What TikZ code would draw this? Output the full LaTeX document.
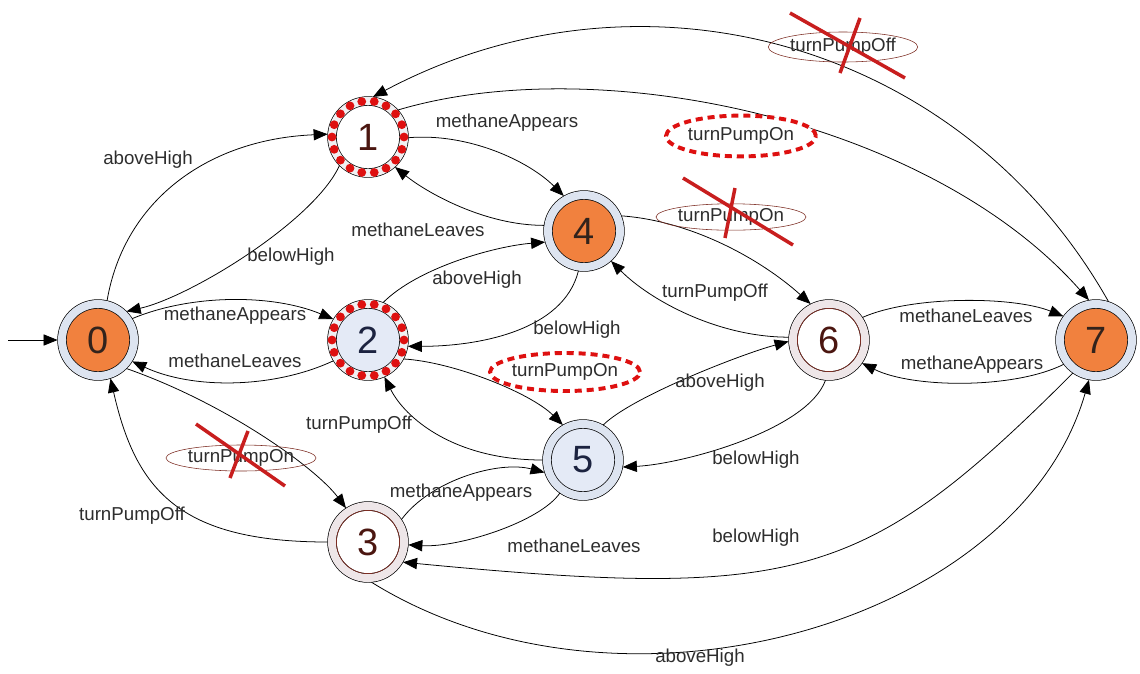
\documentclass[tikz,border=0pt]{standalone}
\usepackage{fontspec}
\setmainfont{Liberation Sans}
\usepackage{xcolor}
\usepackage{tikz}
\usetikzlibrary{shapes.geometric, arrows.meta}

\definecolor{laranja}{RGB}{241,129,62}
\definecolor{anelazul}{RGB}{221,228,240}
\definecolor{anelbranco}{RGB}{240,240,242}
\definecolor{anelrosa}{RGB}{238,230,232}
\definecolor{azulclaro}{RGB}{228,234,246}
\definecolor{marrom}{RGB}{125,45,35}
\definecolor{vermelho}{RGB}{222,16,16}
\definecolor{vermelhox}{RGB}{200,30,30}
\definecolor{tinta}{RGB}{45,45,45}
\definecolor{digescuro}{RGB}{50,35,28}
\definecolor{digvinho}{RGB}{75,22,16}
\definecolor{digazul}{RGB}{28,35,64}

\tikzstyle{estado} = [circle, minimum size=1.8cm, inner sep=0pt, outer sep=0.11cm, draw=black, line width=0.5pt, double distance=0.2cm, font=\fontsize{27}{27}\selectfont]
\tikzstyle{seta} = [-{Triangle[length=10pt,width=8pt]}, line width=0.55pt]
\tikzstyle{rotulo} = [text=tinta, font=\fontsize{13.3}{15}\selectfont, inner sep=1pt]
\tikzstyle{novo} = [rotulo, ellipse, draw=vermelho, fill=white, line width=2.8pt, dash pattern=on 5pt off 3.5pt, inner sep=0pt]
\tikzstyle{cortado} = [rotulo, ellipse, draw=marrom, line width=0.4pt, inner sep=0pt]
\tikzstyle{xis} = [vermelhox, line width=2.5pt]

\begin{document}
\begin{tikzpicture}[x=0.025cm, y=0.025cm]
    \useasboundingbox (0,0) rectangle (1140,-673);

    % Estados
    \node[estado, double=anelazul, fill=laranja, text=digescuro] (n0) at (98,-340) {0};
    \node[estado, double=anelbranco, fill=white, text=digvinho] (n1) at (368,-137) {1};
    \node[estado, double=anelbranco, fill=azulclaro, text=digazul] (n2) at (368,-340) {2};
    \node[estado, double=anelrosa, fill=white, text=digvinho] (n3) at (368,-542) {3};
    \node[estado, double=anelazul, fill=laranja, text=digescuro] (n4) at (584,-231) {4};
    \node[estado, double=anelazul, fill=azulclaro, text=digazul] (n5) at (583,-460) {5};
    \node[estado, double=anelrosa, fill=white, text=digvinho] (n6) at (829,-340) {6};
    \node[estado, double=anelazul, fill=laranja, text=digescuro] (n7) at (1096,-340) {7};

    % Anel pontilhado
    \foreach \n in {n1,n2}
        \foreach \a in {0,20,...,340}
            \fill[vermelho] (\n.center) ++(\a:36) circle (4.4);
    \foreach \n in {n3,n6}
        \draw[marrom, line width=0.5pt] (\n.center) circle (31.6);

    % Estado inicial
    \coordinate (ini) at (8,-340);
    \draw[seta] (ini) -- (n0);

    % Transicoes
    \draw[seta] (n0.77) .. controls +(17,100) and +(-120,-5) .. (n1.176);
    \draw[seta] (n1.225) .. controls +(-25,-55) and +(65,15) .. (n0.45);
    \draw[seta] (n0.32) .. controls +(60,25) and +(-60,25) .. (n2.149);
    \draw[seta] (n2.211) .. controls +(-60,-28) and +(60,-28) .. (n0.328);
    \draw[seta] (n0.-45) .. controls +(100,-35) and +(-30,40) .. (n3.123);
    \draw[seta] (n3.180) .. controls +(-150,0) and +(25,-110) .. (n0.-72);
    \draw[seta] (n1.-1) .. controls +(60,5) and +(-35,35) .. (n4.120);
    \draw[seta] (n4.172) .. controls +(-60,0) and +(31,-25) .. (n1.-48);
    \draw[seta] (n2.68) .. controls +(35,35) and +(-50,-4) .. (n4.196);
    \draw[seta] (n4.262) .. controls +(-15,-60) and +(70,0) .. (n2.351);
    \draw[seta] (n2.332) .. controls +(50,-3) and +(-32,32) .. (n5.120);
    \draw[seta] (n5.180) .. controls +(-90,0) and +(20,-40) .. (n2.294);
    \draw[seta] (n3.34) .. controls +(30,40) and +(-45,12) .. (n5.198);
    \draw[seta] (n5.235) .. controls +(-20,-29) and +(50,-3) .. (n3.-4);
    \draw[seta] (n4.22) .. controls +(70,-5) and +(-50,45) .. (n6.117);
    \draw[seta] (n6.176) .. controls +(-70,0) and +(40,-40) .. (n4.-48);
    \draw[seta] (n5.60) .. controls +(28,28) and +(-48,-13) .. (n6.182);
    \draw[seta] (n6.265) .. controls +(-18,-50) and +(60,3) .. (n5.-10);
    \draw[seta] (n6.34) .. controls +(50,22) and +(-50,20) .. (n7.144);
    \draw[seta] (n7.217) .. controls +(-50,-25) and +(50,-25) .. (n6.-35);
    \draw[seta] (n1.42) .. controls +(202,60) and +(-159,180) .. (n7.100);
    \draw[seta] (n7.72) .. controls +(-148,262) and +(267,142) .. (n1.83);
    \draw[seta] (n7.235) .. controls +(-208,-208) and +(396,-38) .. (n3.-30);
    \draw[seta] (n3.275) .. controls +(250,-155) and +(-70,-245) .. (n7.260);

    % Rotulos
    \node[rotulo] (l01) at (148,-160) {aboveHigh};
    \node[rotulo] (l10) at (291,-257) {belowHigh};
    \node[rotulo] (l02) at (235,-316) {methaneAppears};
    \node[rotulo] (l20) at (235,-361) {methaneLeaves};
    \node[rotulo] (l30) at (132,-516) {turnPumpOff};
    \node[rotulo] (l14) at (507,-123) {methaneAppears};
    \node[rotulo] (l41) at (418,-230) {methaneLeaves};
    \node[rotulo] (l24) at (477,-280) {aboveHigh};
    \node[rotulo] (l42) at (577,-330) {belowHigh};
    \node[rotulo] (l52) at (359,-425) {turnPumpOff};
    \node[rotulo] (l35) at (461,-493) {methaneAppears};
    \node[rotulo] (l53) at (574,-546) {methaneLeaves};
    \node[rotulo] (l64) at (715,-293) {turnPumpOff};
    \node[rotulo] (l56) at (720,-383) {aboveHigh};
    \node[rotulo] (l65) at (756,-460) {belowHigh};
    \node[rotulo] (l67) at (966,-316) {methaneLeaves};
    \node[rotulo] (l76) at (972,-365) {methaneAppears};
    \node[rotulo] (l73) at (756,-538) {belowHigh};
    \node[rotulo] (l37) at (700,-658) {aboveHigh};

    % Acoes novas
    \node[novo, minimum width=3.62cm, minimum height=1.02cm] (l17) at (741,-136) {turnPumpOn};
    \node[novo, minimum width=3.45cm, minimum height=0.95cm] (l25) at (565,-372) {turnPumpOn};

    % Acoes removidas
    \node[cortado, minimum width=3.75cm, minimum height=0.65cm] (l03) at (241,-458) {turnPumpOn};
    \node[cortado, minimum width=3.42cm, minimum height=0.66cm] (l46) at (731,-217) {turnPumpOn};
    \node[cortado, minimum width=3.67cm, minimum height=0.75cm] (l71) at (843,-47) {turnPumpOff};
    \draw[xis] (196,-424) -- (285,-486);
    \draw[xis] (248,-431) -- (230,-478);
    \draw[xis] (683,-178) -- (793,-245);
    \draw[xis] (735,-188) -- (725,-238);
    \draw[xis] (790,-13) -- (905,-78);
    \draw[xis] (860,-18) -- (840,-73);
\end{tikzpicture}
\end{document}
